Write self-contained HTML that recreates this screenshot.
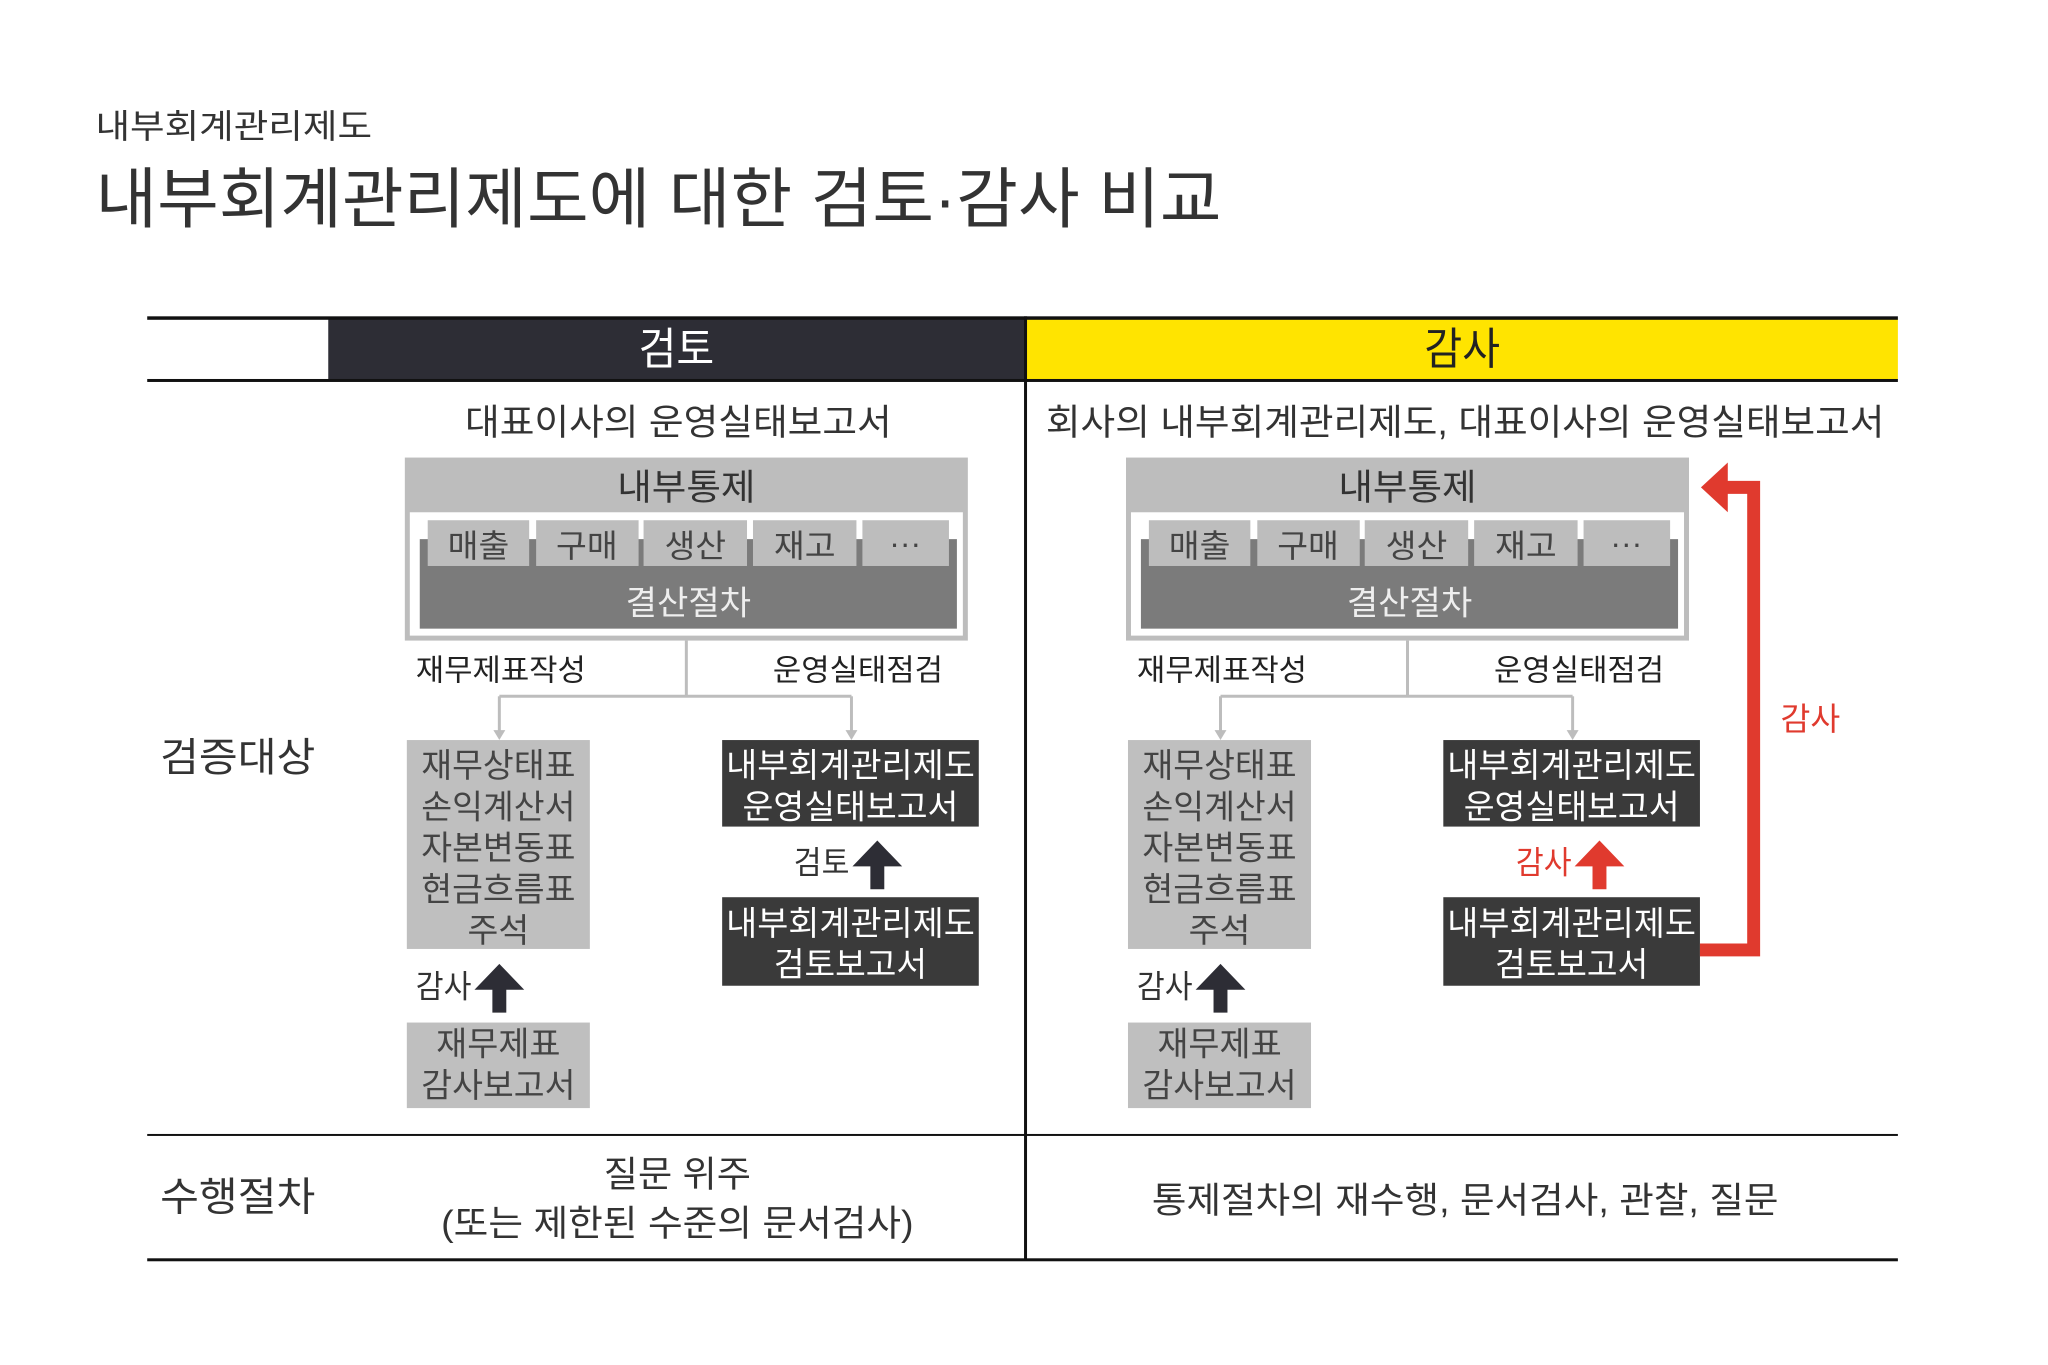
<!DOCTYPE html>
<html><head><meta charset="utf-8"><style>
html,body{margin:0;padding:0;background:#fff;}
svg{display:block;}
text{font-family:"Liberation Sans","Noto Sans CJK KR",sans-serif;}
</style></head><body>
<svg width="2048" height="1365" viewBox="0 0 2048 1365" xmlns="http://www.w3.org/2000/svg">
<defs>
<g id="blk"><polygon points="0,0 25,26 7,26 7,49 -7,49 -7,26 -25,26" /></g>
<g id="panel">
<rect x="405" y="459" width="566" height="184" fill="#bdbdbd"/>
<rect x="410" y="514" width="556" height="124" fill="#fff"/>
<rect x="420" y="541" width="540" height="90" fill="#7b7b7b"/>
<rect x="428" y="522" width="102" height="46" fill="#bdbdbd"/>
<rect x="537" y="522" width="103" height="46" fill="#bdbdbd"/>
<rect x="645" y="522" width="104" height="46" fill="#bdbdbd"/>
<rect x="755" y="522" width="104" height="46" fill="#bdbdbd"/>
<rect x="865" y="522" width="87" height="46" fill="#bdbdbd"/>
<text x="688" y="501" font-size="36" fill="#333" text-anchor="middle" textLength="139" lengthAdjust="spacingAndGlyphs">내부통제</text>
<g font-size="32" fill="#444" text-anchor="middle">
<text x="479" y="559" textLength="62" lengthAdjust="spacingAndGlyphs">매출</text>
<text x="588" y="559" textLength="62" lengthAdjust="spacingAndGlyphs">구매</text>
<text x="697" y="559" textLength="62" lengthAdjust="spacingAndGlyphs">생산</text>
<text x="807" y="559" textLength="62" lengthAdjust="spacingAndGlyphs">재고</text>
<text x="908" y="556">···</text>
</g>
<text x="690" y="617" font-size="34" fill="#eee" text-anchor="middle" textLength="126" lengthAdjust="spacingAndGlyphs">결산절차</text>
<g stroke="#bdbdbd" stroke-width="3" fill="none">
<line x1="688" y1="643" x2="688" y2="699"/>
<line x1="500" y1="699" x2="854" y2="699"/>
<line x1="500" y1="699" x2="500" y2="736"/>
<line x1="854" y1="699" x2="854" y2="736"/>
</g>
<polygon points="494,733 506,733 500,743" fill="#bdbdbd"/>
<polygon points="848,733 860,733 854,743" fill="#bdbdbd"/>
<text x="416" y="683" font-size="30" fill="#222" textLength="171" lengthAdjust="spacingAndGlyphs">재무제표작성</text>
<text x="775" y="683" font-size="30" fill="#222" textLength="171" lengthAdjust="spacingAndGlyphs">운영실태점검</text>
<rect x="407" y="743" width="184" height="210" fill="#bfbfbf"/>
<g font-size="34" fill="#444" text-anchor="middle">
<text x="499" y="780" textLength="155" lengthAdjust="spacingAndGlyphs">재무상태표</text>
<text x="499" y="822" textLength="155" lengthAdjust="spacingAndGlyphs">손익계산서</text>
<text x="499" y="863" textLength="155" lengthAdjust="spacingAndGlyphs">자본변동표</text>
<text x="499" y="905" textLength="155" lengthAdjust="spacingAndGlyphs">현금흐름표</text>
<text x="499" y="946" textLength="62" lengthAdjust="spacingAndGlyphs">주석</text>
</g>
<text x="416" y="1002" font-size="32" fill="#333" textLength="56" lengthAdjust="spacingAndGlyphs">감사</text>
<use href="#blk" x="500" y="968" fill="#2d2d35"/>
<rect x="407" y="1027" width="184" height="86" fill="#bfbfbf"/>
<text x="499" y="1060" font-size="34" fill="#444" text-anchor="middle" textLength="125" lengthAdjust="spacingAndGlyphs">재무제표</text>
<text x="499" y="1102" font-size="34" fill="#444" text-anchor="middle" textLength="155" lengthAdjust="spacingAndGlyphs">감사보고서</text>
<rect x="724" y="743" width="258" height="87" fill="#3a3a3a"/>
<rect x="724" y="901" width="258" height="89" fill="#3a3a3a"/>
<g font-size="34" fill="#fff" text-anchor="middle">
<text x="853" y="780" textLength="250" lengthAdjust="spacingAndGlyphs">내부회계관리제도</text>
<text x="853" y="822" textLength="217" lengthAdjust="spacingAndGlyphs">운영실태보고서</text>
<text x="853" y="939" textLength="250" lengthAdjust="spacingAndGlyphs">내부회계관리제도</text>
<text x="853" y="980" textLength="154" lengthAdjust="spacingAndGlyphs">검토보고서</text>
</g>
</g>
</defs>
<g transform="scale(0.9947)">
<text x="96" y="139" font-size="34" fill="#333" textLength="278" lengthAdjust="spacingAndGlyphs">내부회계관리제도</text>
<text x="96" y="223" font-size="66" fill="#333" textLength="1132" lengthAdjust="spacingAndGlyphs">내부회계관리제도에 대한 검토·감사 비교</text>

<rect x="330" y="321" width="701" height="61" fill="#2d2d35"/>
<rect x="1031" y="321" width="877" height="61" fill="#ffe400"/>
<rect x="148" y="318" width="1760" height="3.5" fill="#111"/>
<rect x="148" y="381" width="1760" height="3" fill="#111"/>
<rect x="1029.5" y="318" width="3" height="949" fill="#111"/>
<rect x="148" y="1140" width="1760" height="2" fill="#111"/>
<rect x="148" y="1265" width="1760" height="3" fill="#111"/>
<text x="680" y="366" font-size="44" fill="#fff" text-anchor="middle" textLength="76" lengthAdjust="spacingAndGlyphs">검토</text>
<text x="1470" y="366" font-size="44" fill="#222" text-anchor="middle" textLength="76" lengthAdjust="spacingAndGlyphs">감사</text>

<text x="161" y="775" font-size="40" fill="#333" textLength="156" lengthAdjust="spacingAndGlyphs">검증대상</text>
<text x="161" y="1217" font-size="40" fill="#333" textLength="156" lengthAdjust="spacingAndGlyphs">수행절차</text>

<text x="682" y="437" font-size="36" fill="#333" text-anchor="middle" textLength="429" lengthAdjust="spacingAndGlyphs">대표이사의 운영실태보고서</text>
<text x="1473" y="437" font-size="36" fill="#333" text-anchor="middle" textLength="843" lengthAdjust="spacingAndGlyphs">회사의 내부회계관리제도, 대표이사의 운영실태보고서</text>

<use href="#panel" x="2" y="1"/>
<text x="798" y="878" font-size="32" fill="#333" textLength="56" lengthAdjust="spacingAndGlyphs">검토</text>
<use href="#blk" x="882" y="845" fill="#2d2d35"/>

<use href="#panel" x="727" y="1"/>
<text x="1524" y="878" font-size="32" fill="#e03a2e" textLength="56" lengthAdjust="spacingAndGlyphs">감사</text>
<use href="#blk" x="1608" y="845" fill="#e03a2e"/>

<polyline points="1709,955 1763,955 1763,490 1732,490" fill="none" stroke="#e03a2e" stroke-width="13"/>
<polygon points="1710,490 1737,465 1737,515" fill="#e03a2e"/>
<text x="1790" y="734" font-size="32" fill="#e03a2e" textLength="60" lengthAdjust="spacingAndGlyphs">감사</text>

<text x="681" y="1193" font-size="36" fill="#333" text-anchor="middle" textLength="148" lengthAdjust="spacingAndGlyphs">질문 위주</text>
<text x="681" y="1242" font-size="36" fill="#333" text-anchor="middle" textLength="475" lengthAdjust="spacingAndGlyphs">(또는 제한된 수준의 문서검사)</text>
<text x="1473" y="1219" font-size="36" fill="#333" text-anchor="middle" textLength="630" lengthAdjust="spacingAndGlyphs">통제절차의 재수행, 문서검사, 관찰, 질문</text>
</g>
</svg>
</body></html>
